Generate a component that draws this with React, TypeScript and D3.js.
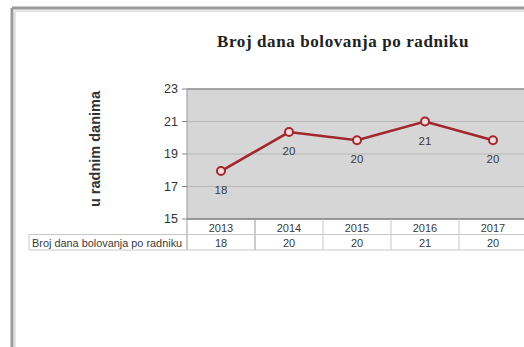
import * as d3 from "d3";
import React from "react";

// data
const years = ["2013", "2014", "2015", "2016", "2017"];
const days = [17.95, 20.35, 19.85, 21.0, 19.85];
const yTicks = [15, 17, 19, 21, 23];
const seriesName = "Broj dana bolovanja po radniku";
const title = "Broj dana bolovanja po radniku";
const yTitle = "u radnim danima";

const W = 524;
const H = 347;
const plot = { left: 187, right: 527, top: 89, bottom: 219 };
const rowH = 15.5;
const tableLeft = 29;

export default function App() {
  const x = d3.scaleBand().domain(years).range([plot.left, plot.right]);
  const y = d3.scaleLinear().domain([15, 23]).range([plot.bottom, plot.top]);
  const line = d3
    .line<number>()
    .x((_, i) => (x(years[i]) || 0) + x.bandwidth() / 2)
    .y((d) => y(d));
  const fmt = d3.format(".0f");
  const narrow = "'Liberation Sans Narrow', 'Liberation Sans', Arial, sans-serif";
  const gridColor = "#b8b8b8";
  const tableLine = "#c8c8c8";

  return (
    <svg
      width={W}
      height={H}
      style={{ position: "absolute", left: 0, top: 0, background: "#fff" }}
    >
      {/* outer frame */}
      <rect x={0} y={0} width={W} height={H} fill="#fff" />
      <line x1={12} y1={8} x2={W} y2={8} stroke="#9a9a9a" strokeWidth={3} />
      <line x1={12} y1={8} x2={12} y2={H} stroke="#9a9a9a" strokeWidth={3} />
      <line x1={15} y1={11} x2={W} y2={11} stroke="#e4e4e4" strokeWidth={2} />
      <line x1={15} y1={11} x2={15} y2={H} stroke="#e4e4e4" strokeWidth={2} />

      <text
        x={343}
        y={47}
        textAnchor="middle"
        fontFamily="'Liberation Serif', 'Times New Roman', serif"
        fontWeight="bold"
        fontSize={17}
        letterSpacing={0.6}
        fill="#222"
      >
        {title}
      </text>

      <text
        transform={`translate(100, ${(plot.top + plot.bottom) / 2 - 5}) rotate(-90)`}
        textAnchor="middle"
        fontFamily="'Liberation Sans', Arial, sans-serif"
        fontWeight="bold"
        fontSize={14.5}
        fill="#333"
      >
        {yTitle}
      </text>

      {/* plot area */}
      <rect
        x={plot.left}
        y={plot.top}
        width={plot.right - plot.left}
        height={plot.bottom - plot.top}
        fill="#d6d6d6"
      />
      {yTicks.slice(1, -1).map((t) => (
        <line
          key={`g${t}`}
          x1={plot.left}
          x2={plot.right}
          y1={y(t)}
          y2={y(t)}
          stroke={gridColor}
          strokeWidth={1}
        />
      ))}
      <line x1={plot.left} x2={plot.right} y1={plot.top} y2={plot.top} stroke="#8a8a8a" strokeWidth={1.5} />
      <line x1={plot.left} x2={plot.right} y1={plot.bottom} y2={plot.bottom} stroke="#7a7a7a" strokeWidth={1.5} />
      <line x1={plot.left} x2={plot.left} y1={plot.top} y2={plot.bottom} stroke="#9a9a9a" strokeWidth={1} />

      {yTicks.map((t) => (
        <g key={`t${t}`}>
          <line x1={plot.left - 5} x2={plot.left} y1={y(t)} y2={y(t)} stroke="#888" />
          <text
            x={plot.left - 9}
            y={y(t)}
            dy="0.35em"
            textAnchor="end"
            fontFamily={narrow}
            fontSize={12.5}
            fill="#333"
          >
            {t}
          </text>
        </g>
      ))}

      {/* series */}
      <path d={line(days) || ""} fill="none" stroke="#a3262f" strokeWidth={2.6} />
      {days.map((d, i) => {
        const cx = (x(years[i]) || 0) + x.bandwidth() / 2;
        return (
          <g key={`p${i}`}>
            <circle cx={cx} cy={y(d)} r={4} fill="#f3dcdc" stroke="#a3262f" strokeWidth={2} />
            <text
              x={cx}
              y={y(d) + 19}
              dy="0.35em"
              textAnchor="middle"
              fontFamily={narrow}
              fontSize={11.5}
              fill="#3a3a3a"
            >
              {fmt(d)}
            </text>
          </g>
        );
      })}

      {/* data table */}
      {years.map((yr, i) => {
        const x0 = x(yr) || 0;
        const cx = x0 + x.bandwidth() / 2;
        return (
          <g key={`c${yr}`}>
            <line
              x1={x0 + x.bandwidth()}
              x2={x0 + x.bandwidth()}
              y1={plot.bottom}
              y2={plot.bottom + 2 * rowH}
              stroke={i === 0 ? "#999" : tableLine}
            />
            <text
              x={cx}
              y={plot.bottom + rowH / 2 + 1}
              dy="0.35em"
              textAnchor="middle"
              fontFamily={narrow}
              fontSize={11}
              fill="#3a3a3a"
            >
              {yr}
            </text>
            <text
              x={cx}
              y={plot.bottom + rowH * 1.5 + 1}
              dy="0.35em"
              textAnchor="middle"
              fontFamily={narrow}
              fontSize={11}
              fill="#3a3a3a"
            >
              {fmt(days[i])}
            </text>
          </g>
        );
      })}
      <line x1={plot.left} x2={plot.left} y1={plot.bottom} y2={plot.bottom + 2 * rowH} stroke="#999" />
      <line x1={tableLeft} x2={plot.right} y1={plot.bottom + rowH} y2={plot.bottom + rowH} stroke={tableLine} />
      <line x1={tableLeft} x2={plot.right} y1={plot.bottom + 2 * rowH} y2={plot.bottom + 2 * rowH} stroke={tableLine} />
      <line x1={tableLeft} x2={tableLeft} y1={plot.bottom + rowH} y2={plot.bottom + 2 * rowH} stroke={tableLine} />
      <text
        x={tableLeft + 3}
        y={plot.bottom + rowH * 1.5 + 1}
        dy="0.35em"
        fontFamily={narrow}
        fontSize={10.9}
        fill="#3a3a3a"
      >
        {seriesName}
      </text>
    </svg>
  );
}
